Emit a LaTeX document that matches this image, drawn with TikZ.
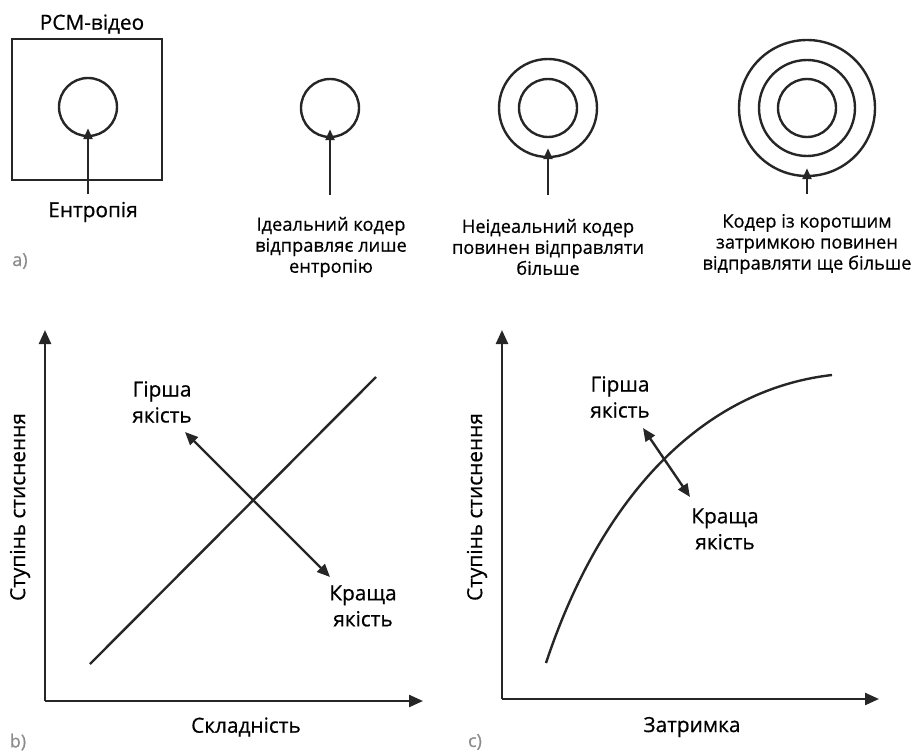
\documentclass[tikz,border=0pt]{standalone}
\usepackage{fontspec}
\setmainfont{Open Sans}[FakeBold=0.6]
\usetikzlibrary{arrows.meta}

\begin{document}
\begin{tikzpicture}[x=1pt,y=-1pt,
  ink/.style={draw=black!85, line width=2.4pt},
  ring/.style={circle, ink, inner sep=0pt, minimum size=#1},
  ptr/.style={ink, -{Triangle[length=11pt,width=9pt]}},
  axis/.style={ink, -{Triangle[length=14pt,width=12pt]}},
  twoway/.style={ink, {Triangle[length=13pt,width=11pt]}-{Triangle[length=13pt,width=11pt]}},
  captxt/.style={font=\fontsize{18.3}{21}\selectfont, align=center, text=black, inner sep=0pt},
  lbl/.style={font=\fontsize{20.8}{26}\selectfont, align=center, text=black, inner sep=0pt},
  tag/.style={font=\fontsize{18}{20}\selectfont, text=black!45, inner sep=0pt}
]
\useasboundingbox (0,0) rectangle (922,752);

% --- a) PCM video and entropy of the coders
\node[draw=black!85, line width=2.6pt, minimum width=150pt, minimum height=141pt, inner sep=0pt] (pcm) at (87,109.5) {};
\node[lbl] (pcmtxt) at (92,24) {PCM-відео};
\node[ring=58pt] (e0) at (88,107) {};
\coordinate (t0) at (88,194);
\draw[ptr] (t0) -- ([yshift=9pt]e0.south);
\node[lbl] (enttxt) at (93,212) {Ентропія};

\node[ring=58pt] (e1) at (330,108) {};
\coordinate (t1) at (330,195);
\draw[ptr] (t1) -- ([yshift=9pt]e1.south);
\node[captxt] (c1txt) at (331,247) {Ідеальний кодер\\відправляє лише\\ентропію};

\node[ring=58pt] (e2a) at (548,108) {};
\node[ring=98pt] (e2b) at (548,108) {};
\coordinate (t2) at (548,195);
\draw[ptr] (t2) -- ([yshift=10pt]e2b.south);
\node[captxt] (c2txt) at (548,247) {Неідеальний кодер\\повинен відправляти\\більше};

\node[ring=58pt] (e3a) at (807,108) {};
\node[ring=96pt] (e3b) at (807,108) {};
\node[ring=136pt] (e3c) at (807,108) {};
\coordinate (t3) at (807,194);
\draw[ptr] (t3) -- ([yshift=9pt]e3c.south);
\node[captxt] (c3txt) at (807,244) {Кодер із коротшим\\затримкою повинен\\відправляти ще більше};

\node[tag] (taga) at (20,261) {a)};

% --- b) compression versus complexity
\coordinate (bo) at (45,701);
\coordinate (by) at (45,330);
\coordinate (bx) at (423,701);
\draw[axis] (bo) -- (by);
\draw[axis] (bo) -- (bx);
\coordinate (bl0) at (90,664);
\coordinate (bl1) at (376,377);
\draw[ink] (bl0) -- (bl1);
\coordinate (bw) at (185,432);
\coordinate (bb) at (330,577);
\draw[twoway] (bw) -- (bb);
\node[lbl] (bworse) at (162,402) {Гірша\\якість};
\node[lbl] (bbetter) at (363,606) {Краща\\якість};
\node[lbl, rotate=90] (bylab) at (20,507) {Ступінь стиснення};
\node[lbl] (bxlab) at (246,727) {Складність};
\node[tag] (tagb) at (18,742) {b)};

% --- c) compression versus delay
\coordinate (co) at (502,699);
\coordinate (cy) at (502,330);
\coordinate (cx) at (879,699);
\draw[axis] (co) -- (cy);
\draw[axis] (co) -- (cx);
\coordinate (cc0) at (546,663);
\coordinate (cc1) at (832,375);
\draw[ink] (cc0) .. controls (600,500) and (700,390) .. (cc1);
\coordinate (cw) at (643,428);
\coordinate (cb) at (690,497);
\draw[twoway] (cw) -- (cb);
\node[lbl] (cworse) at (620,397) {Гірша\\якість};
\node[lbl] (cbetter) at (725,529) {Краща\\якість};
\node[lbl, rotate=90] (cylab) at (477,507) {Ступінь стиснення};
\node[lbl] (cxlab) at (692,727) {Затримка};
\node[tag] (tagc) at (475,742) {c)};
\end{tikzpicture}
\end{document}
